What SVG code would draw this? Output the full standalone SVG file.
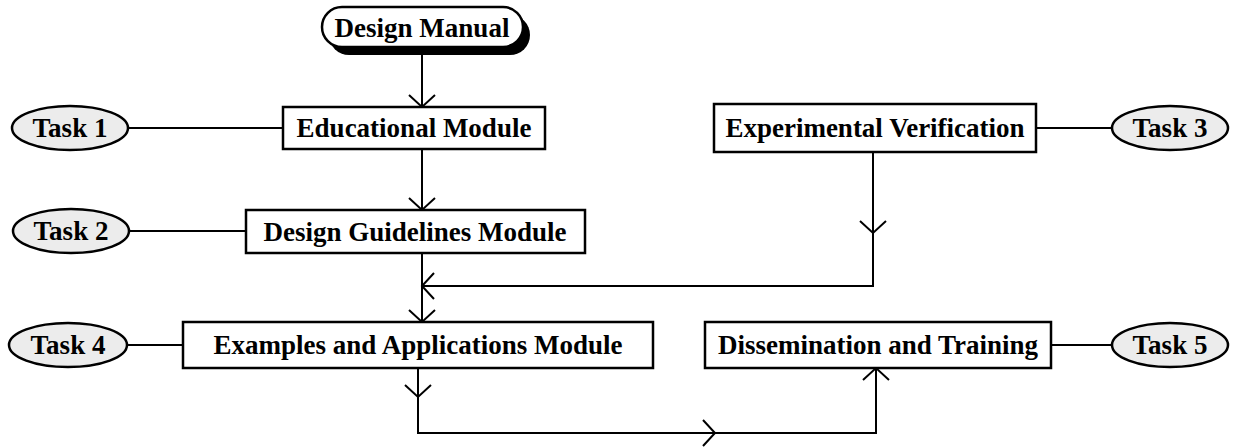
<svg xmlns="http://www.w3.org/2000/svg" width="1235" height="448" viewBox="0 0 1235 448">
<defs>
<style>
.box{fill:#fff;stroke:#000;stroke-width:2.5}
.task{fill:#ececec;stroke:#000;stroke-width:2.5}
.lbl{font-family:"Liberation Serif","Times New Roman",serif;font-weight:bold;font-size:27px;fill:#000;text-anchor:middle}
.ln{fill:none;stroke:#000;stroke-width:2}
</style>
<marker id="ah" viewBox="-14 -14 16 28" markerWidth="16" markerHeight="28" refX="0" refY="0" orient="auto" markerUnits="userSpaceOnUse">
<path d="M-12,-13 L0,0 L-12,13" fill="none" stroke="#000" stroke-width="2"/>
</marker>
</defs>
<g id="connectors">
<line class="ln" x1="422" y1="55" x2="422" y2="107" marker-end="url(#ah)"/>
<line class="ln" x1="128" y1="128" x2="283" y2="128"/>
<line class="ln" x1="422" y1="149" x2="422" y2="210" marker-end="url(#ah)"/>
<line class="ln" x1="129" y1="231" x2="246" y2="231"/>
<line class="ln" x1="1036" y1="128" x2="1112" y2="128"/>
<line class="ln" x1="873" y1="152" x2="873" y2="233" marker-end="url(#ah)"/>
<polyline class="ln" points="873,233 873,286 422,286" marker-end="url(#ah)"/>
<line class="ln" x1="422" y1="253" x2="422" y2="322" marker-end="url(#ah)"/>
<line class="ln" x1="127" y1="345" x2="183" y2="345"/>
<line class="ln" x1="1051" y1="345" x2="1112" y2="345"/>
<line class="ln" x1="418" y1="368" x2="418" y2="397" marker-end="url(#ah)"/>
<polyline class="ln" points="418,397 418,433 715,433" marker-end="url(#ah)"/>
<polyline class="ln" points="715,433 876,433 876,368" marker-end="url(#ah)"/>
</g>
<g id="design-manual">
<rect x="329" y="15" width="201" height="40" rx="20" fill="#000"/>
<rect class="box" x="322" y="7" width="201" height="40" rx="20"/>
<text class="lbl" x="422" y="37" font-size="28">Design Manual</text>
</g>
<g id="educational-module">
<rect class="box" x="283" y="107" width="262" height="42"/>
<text class="lbl" x="414" y="137">Educational Module</text>
</g>
<g id="task1">
<ellipse class="task" cx="70" cy="128" rx="58" ry="22"/>
<text class="lbl" x="70" y="137">Task 1</text>
</g>
<g id="design-guidelines-module">
<rect class="box" x="246" y="210" width="339" height="43"/>
<text class="lbl" x="415" y="241">Design Guidelines Module</text>
</g>
<g id="task2">
<ellipse class="task" cx="71" cy="231" rx="58" ry="22"/>
<text class="lbl" x="71" y="240">Task 2</text>
</g>
<g id="experimental-verification">
<rect class="box" x="714" y="104" width="322" height="48"/>
<text class="lbl" x="875" y="137">Experimental Verification</text>
</g>
<g id="task3">
<ellipse class="task" cx="1170" cy="128" rx="58" ry="22"/>
<text class="lbl" x="1170" y="137">Task 3</text>
</g>
<g id="examples-applications-module">
<rect class="box" x="183" y="322" width="470" height="46"/>
<text class="lbl" x="418" y="354">Examples and Applications Module</text>
</g>
<g id="task4">
<ellipse class="task" cx="68" cy="345" rx="59" ry="22"/>
<text class="lbl" x="68" y="354">Task 4</text>
</g>
<g id="dissemination-training">
<rect class="box" x="705" y="322" width="346" height="46"/>
<text class="lbl" x="878" y="354">Dissemination and Training</text>
</g>
<g id="task5">
<ellipse class="task" cx="1170" cy="345" rx="58" ry="22"/>
<text class="lbl" x="1170" y="354">Task 5</text>
</g>
</svg>
